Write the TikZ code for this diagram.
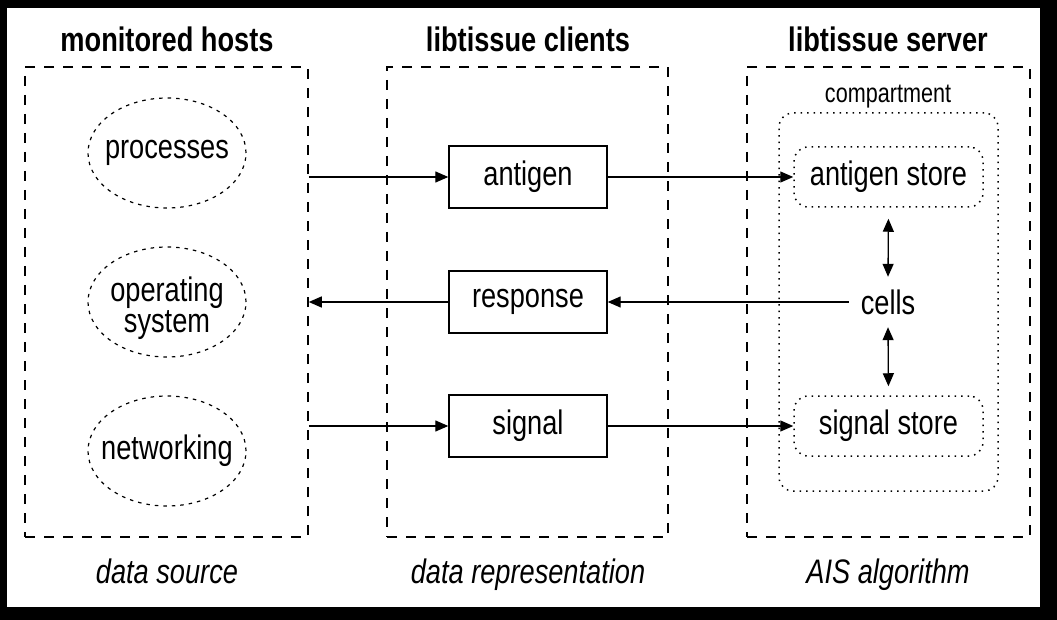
\documentclass[tikz,border=0pt]{standalone}
\usepackage{fontspec}
\setmainfont{Liberation Sans}[FakeStretch=0.8]
\usetikzlibrary{shapes.geometric,arrows.meta}
\begin{document}
\begin{tikzpicture}[x=1pt,y=-1pt,
  every node/.style={font=\fontsize{34}{31}\selectfont, inner sep=0pt},
  colbox/.style={draw, line width=1.5pt, dash pattern=on 10pt off 9pt, minimum height=470pt},
  hostell/.style={draw, ellipse, line width=1.2pt, dash pattern=on 3.5pt off 5pt, minimum width=158pt, minimum height=110pt},
  clientbox/.style={draw, line width=1.4pt, minimum width=158pt, minimum height=62pt},
  storebox/.style={draw, line width=1.5pt, dash pattern=on 1.5pt off 5pt, rounded corners=14pt, minimum width=189pt, minimum height=60pt},
  title/.style={font=\fontsize{34}{31}\selectfont\bfseries, anchor=base},
  caption/.style={font=\fontsize{34}{31}\selectfont\itshape, anchor=base},
  flow/.style={line width=1.3pt, -{Triangle[length=13pt,width=11pt]}},
  dflow/.style={line width=1.3pt, {Triangle[length=13pt,width=11pt]}-{Triangle[length=13pt,width=11pt]}}
]
\fill[black] (0,0) rectangle (1057,620);
\fill[white] (7,8) rectangle (1040,607);

% columns
\node[colbox, minimum width=283pt] (hosts) at (166.5,302) {};
\node[colbox, minimum width=281pt] (clients) at (527.5,302) {};
\node[colbox, minimum width=283pt] (server) at (888.5,302) {};

\node[title] (thosts) at (167,52) {monitored hosts};
\node[title] (tclients) at (528,52) {libtissue clients};
\node[title] (tserver) at (888,52) {libtissue server};

\node[caption] (chosts) at (167,583) {data source};
\node[caption] (cclients) at (528,583) {data representation};
\node[caption] (cserver) at (888,583) {AIS algorithm};

% hosts
\node[hostell, label={center:processes}] (proc) at (167,153) {};
\node[hostell, label={[align=center, yshift=-6pt]center:{operating\\system}}] (os) at (167,302) {};
\node[hostell, label={center:networking}] (net) at (167,451) {};

% clients
\node[clientbox] (antigen) at (528,177) {antigen};
\node[clientbox] (response) at (528,302) {response};
\node[clientbox] (signal) at (528,426) {signal};

% server
\node[draw, line width=1.5pt, dash pattern=on 1.5pt off 5pt, rounded corners=14pt,
      minimum width=219pt, minimum height=378pt] (comp) at (888.5,302) {};
\node[font=\fontsize{27}{27}\selectfont] (comptitle) at (888,97) {compartment};
\node[storebox] (astore) at (888.5,177) {antigen store};
\node[storebox] (sstore) at (888.5,426) {signal store};
\node[minimum height=50pt, inner xsep=12pt] (cells) at (888,302) {cells};

% connectors
\draw[flow] (hosts.east |- antigen.west) -- (antigen.west);
\draw[flow] (antigen.east) -- (astore.west);
\draw[flow] (cells.west) -- (response.east);
\draw[flow] (response.west) -- (hosts.east |- response.west);
\draw[flow] (hosts.east |- signal.west) -- (signal.west);
\draw[flow] (signal.east) -- (sstore.west);
\draw[dflow, shorten <=11pt] (astore.south) -- (cells.north);
\draw[dflow, shorten >=9pt] (cells.south) -- (sstore.north);
\end{tikzpicture}
\end{document}
